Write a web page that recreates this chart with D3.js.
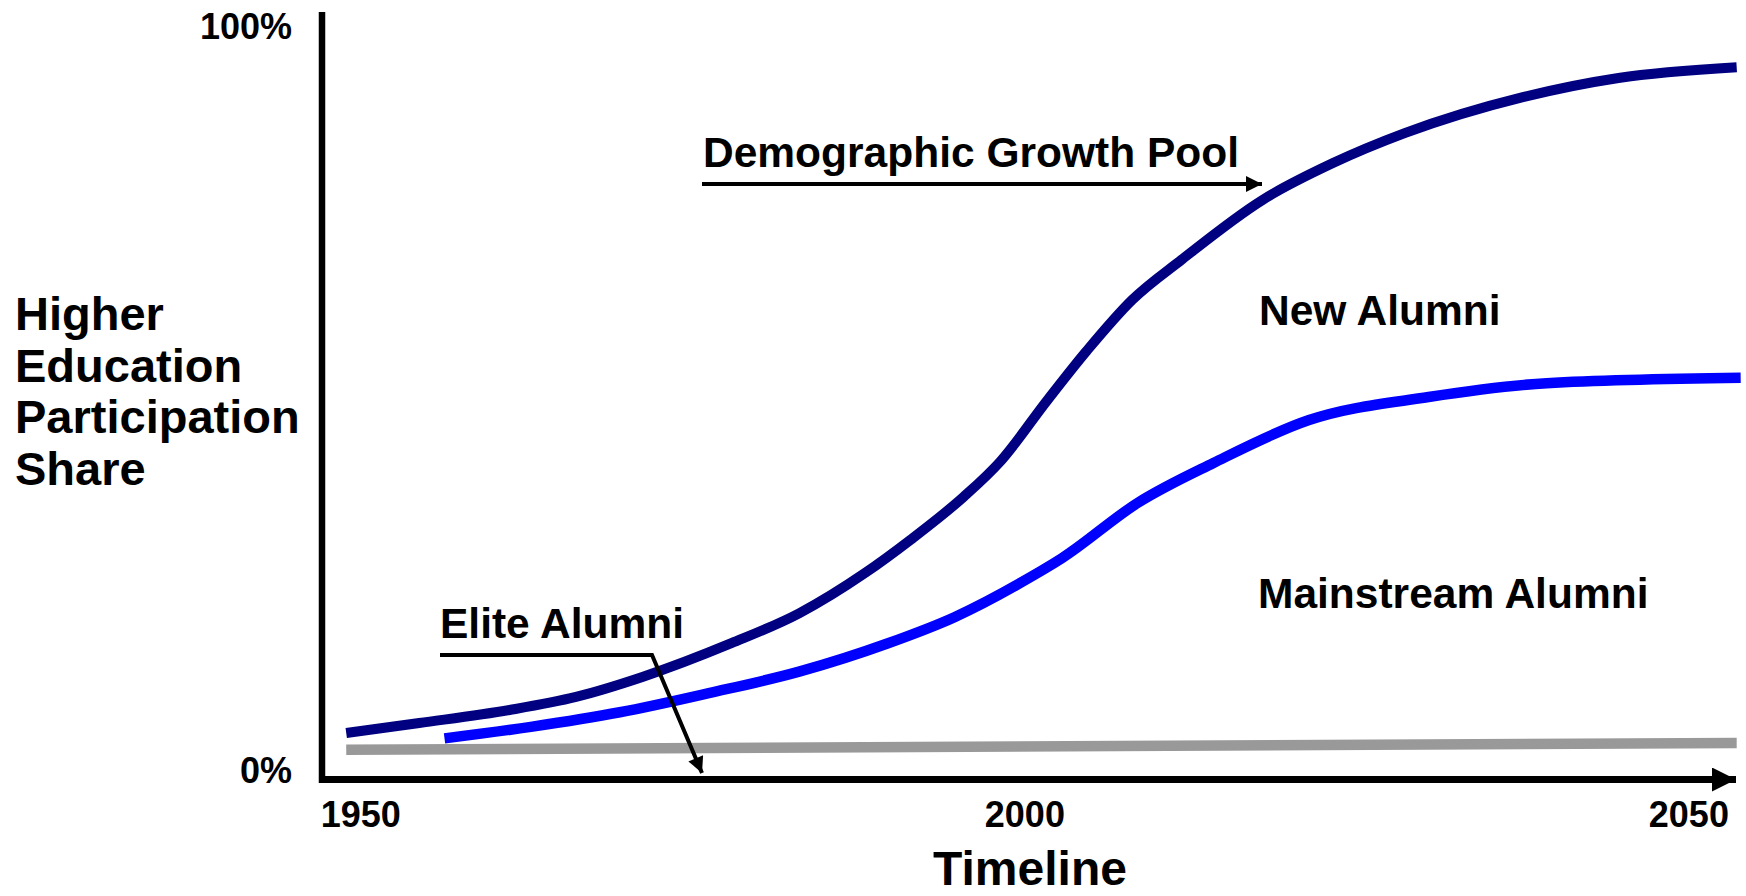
<!DOCTYPE html>
<html>
<head>
<meta charset="utf-8">
<script src="https://cdn.jsdelivr.net/npm/d3@7"></script>
<style>
  html, body { margin: 0; padding: 0; background: #fff; }
  svg text { font-family: "Liberation Sans", Arial, sans-serif; font-weight: bold; fill: #000; }
</style>
</head>
<body>
<div id="main-container"></div>
<script>
// DATA (years on the timeline, values are % share)
const poolYears   = [1948.9, 1954.4, 1961.2, 1966.2, 1971.2, 1977.9, 1983.0, 1988.0, 1991.4, 1995.4, 1998.1, 2001.7, 2004.6, 2008.1, 2011.8, 2017.9, 2023.2, 2028.6, 2037.5, 2044.7, 2053.6];
const poolValues  = [6.0, 7.3, 9.0, 10.7, 13.3, 17.7, 21.6, 26.9, 31.2, 36.8, 41.3, 49.4, 55.7, 62.5, 67.7, 75.5, 80.3, 84.2, 88.9, 91.4, 92.8];

const mainYears   = [1956.3, 1962.8, 1969.5, 1976.2, 1983.0, 1989.7, 1994.7, 2000.4, 2002.8, 2008.5, 2014.2, 2021.4, 2030.4, 2039.3, 2053.9];
const mainValues  = [5.3, 6.8, 8.7, 11.2, 14.0, 17.7, 21.1, 26.3, 28.8, 36.0, 41.2, 46.8, 49.8, 51.6, 52.3];

const eliteYears  = [1948.9, 2053.6];
const eliteValues = [3.8, 4.7];

const xTicks = [1950, 2000, 2050];
const yTicks = [0, 100];
const yTitle = ["Higher", "Education", "Participation", "Share"];

// CONSTANTS
const width = 1746, height = 896;

const svg = d3.select("#main-container")
    .append("svg")
        .attr("width", width)
        .attr("height", height);

const x = d3.scaleLinear().domain([1947, 2054]).range([321, 1742]);
const y = d3.scaleLinear().domain([0, 100]).range([779, 12]);

const defs = svg.append("defs");
function marker(id, w, h) {
    defs.append("marker")
        .attr("id", id)
        .attr("viewBox", "0 0 10 10")
        .attr("refX", 10).attr("refY", 5)
        .attr("markerUnits", "userSpaceOnUse")
        .attr("markerWidth", w).attr("markerHeight", h)
        .attr("orient", "auto")
        .append("path")
            .attr("d", "M0,0 L10,5 L0,10 Z")
            .attr("fill", "#000");
}
marker("axisHead", 24, 24);
marker("smallHead", 17, 16);

// series lines
const line = (xs, vs) => d3.line()
    .x((d, i) => x(xs[i]))
    .y(d => y(d))
    .curve(d3.curveMonotoneX)(vs);

svg.append("path")
    .attr("d", line(eliteYears, eliteValues))
    .attr("fill", "none").attr("stroke", "#999999").attr("stroke-width", 10.5);

svg.append("path")
    .attr("d", line(mainYears, mainValues))
    .attr("fill", "none").attr("stroke", "#0000ff").attr("stroke-width", 10.5);

svg.append("path")
    .attr("d", line(poolYears, poolValues))
    .attr("fill", "none").attr("stroke", "#000080").attr("stroke-width", 10);

// axes
svg.append("line")
    .attr("x1", x(1947) + 1).attr("x2", x(1947) + 1)
    .attr("y1", y(100)).attr("y2", y(0) + 4)
    .attr("stroke", "#000").attr("stroke-width", 6.5);

svg.append("line")
    .attr("x1", x(1947) - 2).attr("x2", x(2054) - 6)
    .attr("y1", y(0) + 0.5).attr("y2", y(0) + 0.5)
    .attr("stroke", "#000").attr("stroke-width", 7)
    .attr("marker-end", "url(#axisHead)");

svg.selectAll(".xtick")
    .data(xTicks)
    .enter()
    .append("text")
        .attr("class", "xtick")
        .attr("x", d => x(d))
        .attr("y", y(0) + 48)
        .attr("text-anchor", "middle")
        .style("font-size", "36px")
        .text(d => d);

svg.selectAll(".ytick")
    .data(yTicks)
    .enter()
    .append("text")
        .attr("class", "ytick")
        .attr("x", 292)
        .attr("y", d => d === 0 ? y(d) + 4 : y(d) + 27)
        .attr("text-anchor", "end")
        .style("font-size", "36px")
        .text(d => d + "%");

svg.append("text")
    .attr("x", 1030).attr("y", 885)
    .attr("text-anchor", "middle")
    .style("font-size", "48px")
    .text("Timeline");

svg.append("text")
    .attr("x", 15).attr("y", 330)
    .style("font-size", "47px")
    .selectAll("tspan")
    .data(yTitle)
    .enter()
    .append("tspan")
        .attr("x", 15)
        .attr("dy", (d, i) => i === 0 ? 0 : 51.5)
        .text(d => d);

// annotations
svg.append("text").attr("x", 703).attr("y", 167).style("font-size", "42.5px").text("Demographic Growth Pool");
svg.append("line")
    .attr("x1", 702).attr("x2", 1262).attr("y1", 184).attr("y2", 184)
    .attr("stroke", "#000").attr("stroke-width", 4)
    .attr("marker-end", "url(#smallHead)");

svg.append("text").attr("x", 1259).attr("y", 325).style("font-size", "42.5px").text("New Alumni");
svg.append("text").attr("x", 1258).attr("y", 608).style("font-size", "42.5px").text("Mainstream Alumni");

svg.append("text").attr("x", 440).attr("y", 638).style("font-size", "42.5px").text("Elite Alumni");
svg.append("path")
    .attr("d", "M440,655 L652,655 L702,773")
    .attr("fill", "none").attr("stroke", "#000").attr("stroke-width", 4)
    .attr("marker-end", "url(#smallHead)");
</script>
</body>
</html>
